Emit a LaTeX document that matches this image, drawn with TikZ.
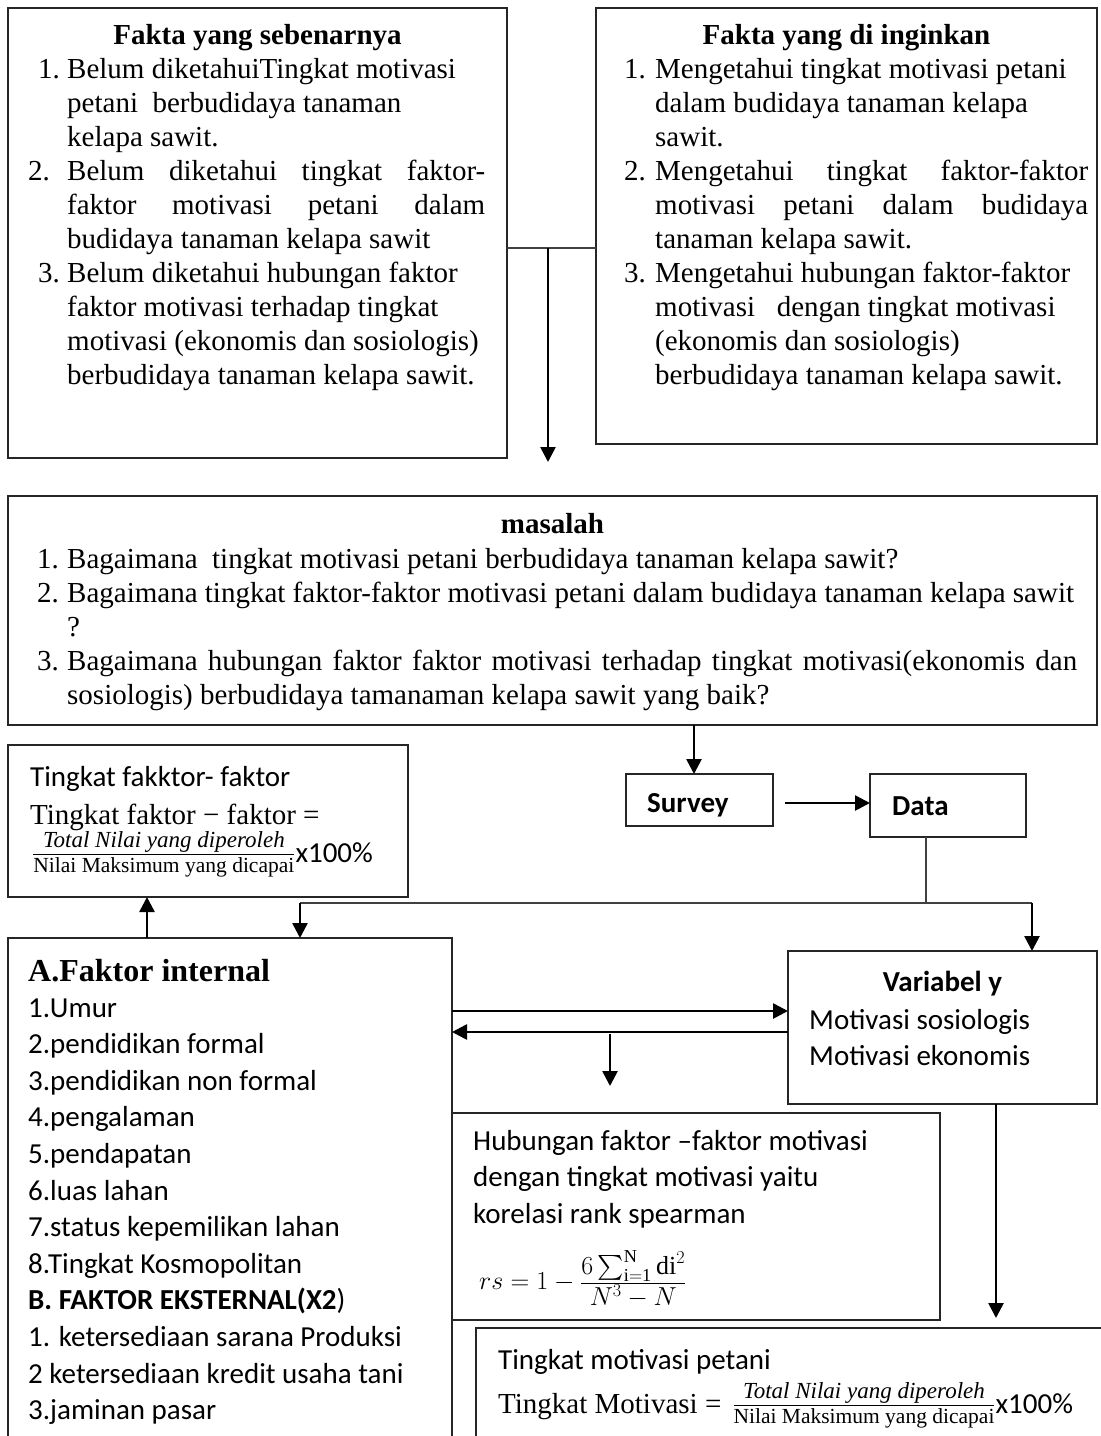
\RequirePackage{fix-cm}
\documentclass[tikz,border=0pt]{standalone}
\usepackage{amsmath}
\usepackage{fontspec}
\setmainfont{Liberation Serif}
\newfontfamily\calib{Carlito}
\usetikzlibrary{arrows.meta}
\newcommand{\myblk}[2]{\begin{minipage}[t]{#1}\raggedright #2\end{minipage}}
\newcommand{\ffrac}{\ensuremath{\genfrac{}{}{1.3pt}{1}{\hbox{\fontsize{23}{23}\selectfont\itshape Total Nilai yang diperoleh}}{\hbox{\fontsize{21.5}{21.5}\selectfont Nilai Maksimum yang dicapai}}}}
\begin{document}
\begin{tikzpicture}[x=1pt,y=-1pt,
  box/.style={draw=black!85, line width=1.4pt, rectangle, inner sep=0pt, outer sep=0pt, anchor=north west},
  arr/.style={line width=2.6pt, -{Triangle[length=15pt,width=15pt]}},
  thinl/.style={line width=1.3pt, black!75},
  ser/.style={font=\fontsize{29}{34}\selectfont, inner sep=0pt, anchor=base west},
  serb/.style={font=\bfseries\fontsize{29}{34}\selectfont, inner sep=0pt, anchor=base},
  cal/.style={font=\calib\fontsize{29}{36.6}\selectfont, inner sep=0pt, anchor=base west},
  calb/.style={font=\calib\bfseries\fontsize{29}{36.6}\selectfont, inner sep=0pt, anchor=base west},
]
\fill[white] (0,0) rectangle (1101,1436);
\useasboundingbox (0,0) rectangle (1101,1436);

% ---------- boxes ----------
\node[box, minimum width=499pt, minimum height=450pt] (f1) at (8,8) {};
\node[box, minimum width=501pt, minimum height=436pt] (f2) at (596,8) {};
\node[box, minimum width=1089pt, minimum height=229pt] (mas) at (8,496) {};
\node[box, minimum width=400pt, minimum height=152pt] (tf) at (8,745) {};
\node[box, minimum width=147pt, minimum height=52pt] (sv) at (626,774) {};
\node[box, minimum width=156pt, minimum height=63pt] (dt) at (870,774) {};
\node[box, minimum width=444pt, minimum height=520pt] (fa) at (8,938) {};
\node[box, minimum width=309pt, minimum height=153pt] (vy) at (788,951) {};
\node[box, minimum width=488pt, minimum height=207pt] (hb) at (452,1113) {};
\node[box, minimum width=640pt, minimum height=200pt] (tm) at (476,1328) {};

% ---------- texts: Fakta yang sebenarnya ----------
\node[serb] (f1h) at (257.5,44) {Fakta yang sebenarnya};
\node[ser] (f1t) at (28,78) {\myblk{470pt}{%
\hspace*{10pt}\makebox[29pt][l]{1.}Belum diketahuiTingkat motivasi\\
\hspace*{39pt}petani\ \ berbudidaya tanaman\\
\hspace*{39pt}kelapa sawit.\\
\makebox[39pt][l]{2.}\makebox[418pt][s]{Belum diketahui tingkat faktor-}\\
\hspace*{39pt}\makebox[418pt][s]{faktor motivasi petani dalam}\\
\hspace*{39pt}budidaya tanaman kelapa sawit\\
\hspace*{10pt}\makebox[29pt][l]{3.}Belum diketahui hubungan faktor\\
\hspace*{39pt}faktor motivasi terhadap tingkat\\
\hspace*{39pt}motivasi (ekonomis dan sosiologis)\\
\hspace*{39pt}berbudidaya tanaman kelapa sawit.}};

% ---------- Fakta yang di inginkan ----------
\node[serb] (f2h) at (846.5,44) {Fakta yang di inginkan};
\node[ser] (f2t) at (624,78) {\myblk{470pt}{%
\makebox[31pt][l]{1.}Mengetahui tingkat motivasi petani\\
\hspace*{31pt}dalam budidaya tanaman kelapa\\
\hspace*{31pt}sawit.\\
\makebox[31pt][l]{2.}\makebox[433pt][s]{Mengetahui tingkat faktor-faktor}\\
\hspace*{31pt}\makebox[433pt][s]{motivasi petani dalam budidaya}\\
\hspace*{31pt}tanaman kelapa sawit.\\
\makebox[31pt][l]{3.}Mengetahui hubungan faktor-faktor\\
\hspace*{31pt}motivasi\ \ \ dengan tingkat motivasi\\
\hspace*{31pt}(ekonomis dan sosiologis)\\
\hspace*{31pt}berbudidaya tanaman kelapa sawit.}};

% ---------- masalah ----------
\node[serb] (mh) at (552.5,533) {masalah};
\node[ser] (mt) at (37,568) {\myblk{1055pt}{%
\makebox[30pt][l]{1.}Bagaimana\ \ tingkat motivasi petani berbudidaya tanaman kelapa sawit?\\
\makebox[30pt][l]{2.}Bagaimana tingkat faktor-faktor motivasi petani dalam budidaya tanaman kelapa sawit\\
\hspace*{30pt}?\\
\makebox[30pt][l]{3.}\makebox[1010pt][s]{Bagaimana hubungan faktor faktor motivasi terhadap tingkat motivasi(ekonomis dan}\\
\hspace*{30pt}sosiologis) berbudidaya tamanaman kelapa sawit yang baik?}};

% ---------- Tingkat faktor ----------
\node[cal] (tf1) at (30,786) {Tingkat fakktor- faktor};
\node[ser] (tf2) at (30,824) {Tingkat faktor − faktor =};
\node[ser] (tf3) at (32,862) {\ffrac{\calib x100\%}};

% ---------- Survey / Data ----------
\node[calb] (svt) at (647,812) {Survey};
\node[calb] (dtt) at (892,815) {Data};

% ---------- Faktor internal ----------
\node[ser, font=\bfseries\fontsize{32}{32}\selectfont] (fah) at (28,981) {A.Faktor internal};
\node[cal] (fat) at (28,1017) {\myblk{420pt}{%
1.Umur\\
2.pendidikan formal\\
3.pendidikan non formal\\
4.pengalaman\\
5.pendapatan\\
6.luas lahan\\
7.status kepemilikan lahan\\
8.Tingkat Kosmopolitan\\
\textbf{B. FAKTOR EKSTERNAL(X2})\\
1. ketersediaan sarana Produksi\\
2 ketersediaan kredit usaha tani\\
3.jaminan pasar}};

% ---------- Variabel y ----------
\node[calb, anchor=base] (vyh) at (942.5,991) {Variabel y};
\node[cal] (vyt) at (809,1029) {\myblk{280pt}{Motivasi sosiologis\\Motivasi ekonomis}};

% ---------- Hubungan ----------
\node[cal] (hbt) at (473,1150) {\myblk{460pt}{Hubungan faktor –faktor motivasi\\dengan tingkat motivasi yaitu\\korelasi rank spearman\\[22pt]%
\hspace*{6pt}{\rmfamily\fontsize{26}{30}\selectfont $rs = 1 - \frac{\textstyle 6\sum_{\mathrm{i=1}}^{\mathrm{N}}\mathrm{di}^2}{\textstyle N^3 - N}$}}};

% ---------- Tingkat motivasi petani ----------
\node[cal] (tmt) at (498,1369) {Tingkat motivasi petani};
\node[ser] (tmf) at (498,1413) {Tingkat Motivasi =\hspace{11pt}\ffrac{\calib x100\%}};

% ---------- connectors ----------
\coordinate (c548) at (548,248);
\draw[thinl] (f1.east |- c548) -- (f2.west |- c548);
\draw[arr] (c548) -- ([yshift=34pt]mas.north -| c548);

\coordinate (c694) at (694,0);
\draw[arr] (mas.south -| c694) -- (sv.north -| c694);
\draw[arr] ([xshift=12pt,yshift=-3pt]sv.east) -- ([yshift=-3pt]sv.east -| dt.west);

\coordinate (j1) at (926,903);
\coordinate (j0) at (300,903);
\coordinate (j2) at (1032,903);
\draw[thinl] (dt.south -| j1) -- (j1);
\draw[thinl] (j0) -- (j2);
\draw[arr] (j0) -- (fa.north -| j0);
\draw[arr] (j2) -- (vy.north -| j2);

\coordinate (c147) at (147,0);
\draw[arr] (fa.north -| c147) -- (tf.south -| c147);

\coordinate (r1) at (0,1011);
\coordinate (r2) at (0,1032);
\draw[arr] (fa.east |- r1) -- (vy.west |- r1);
\draw[arr] (vy.west |- r2) -- (fa.east |- r2);

\coordinate (s1) at (610,1034);
\coordinate (s2) at (610,1086);
\draw[arr] (s1) -- (s2);

\coordinate (c996) at (996,0);
\draw[arr] (vy.south -| c996) -- ([yshift=10pt]tm.north -| c996);
\end{tikzpicture}
\end{document}
